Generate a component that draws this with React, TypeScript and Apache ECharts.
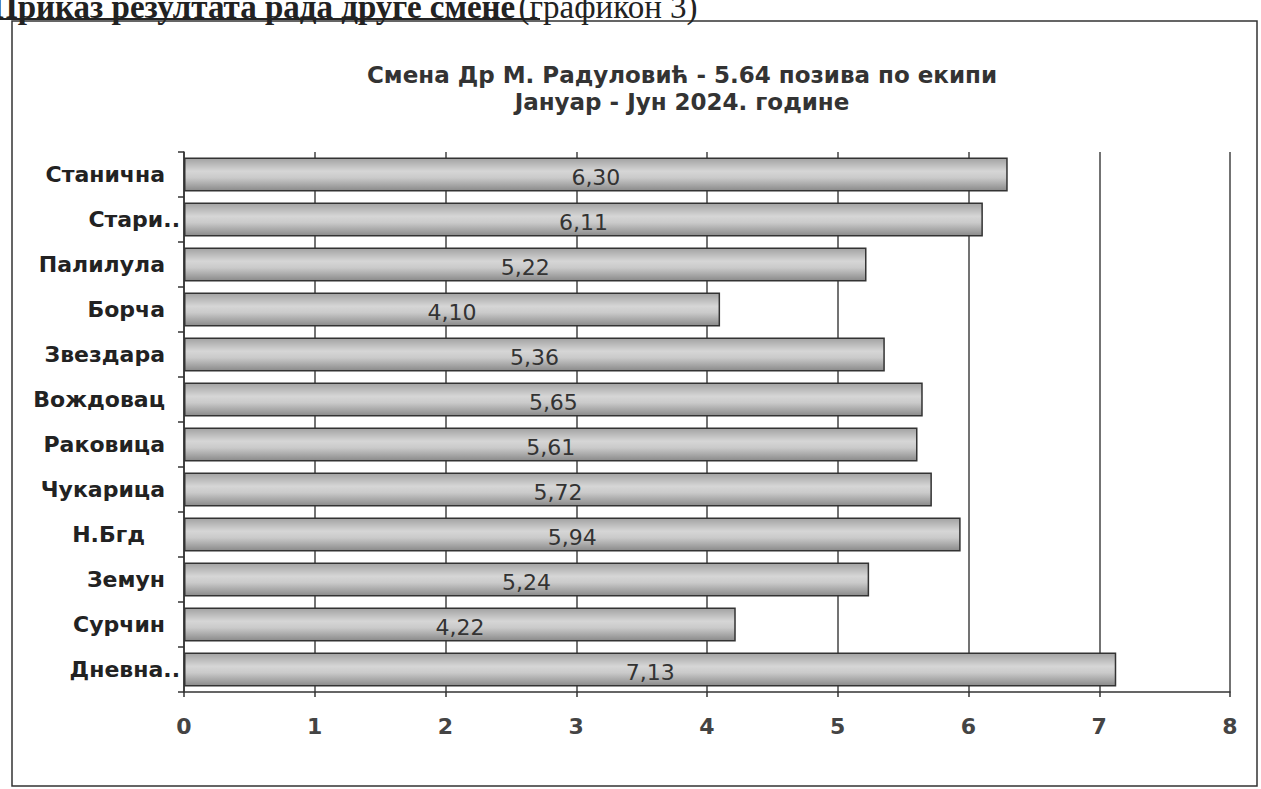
import React, { useEffect, useRef } from "react";
import * as echarts from "echarts";

const titleLine1 = "Смена Др М. Радуловић - 5.64 позива по екипи";
const titleLine2 = "Јануар - Јун 2024. године";
const headingBold = "Приказ резултата рада друге смене";
const headingNormal = "(графикон 3)";

const categories = [
  "Станична",
  "Стари..",
  "Палилула",
  "Борча",
  "Звездара",
  "Вождовац",
  "Раковица",
  "Чукарица",
  "Н.Бгд",
  "Земун",
  "Сурчин",
  "Дневна..",
];
const values = [6.3, 6.11, 5.22, 4.1, 5.36, 5.65, 5.61, 5.72, 5.94, 5.24, 4.22, 7.13];
const xTicks = [0, 1, 2, 3, 4, 5, 6, 7, 8];

const FONT = "'DejaVu Sans', 'Liberation Sans', Arial, sans-serif";
const SERIF = "'Liberation Serif', 'Times New Roman', serif";

export default function App() {
  const ref = useRef<HTMLDivElement>(null);
  useEffect(() => {
    if (!ref.current) return;
    const chart = echarts.init(ref.current, null, { renderer: "svg" });
    const barGradient = new echarts.graphic.LinearGradient(0, 0, 0, 1, [
      { offset: 0, color: "#a2a2a2" },
      { offset: 0.4, color: "#d6d6d6" },
      { offset: 0.6, color: "#cacaca" },
      { offset: 1, color: "#8a8a8a" },
    ]);
    const labelStyle = { fontFamily: FONT, fontWeight: "bold", fontSize: 22, color: "#222" };
    chart.setOption({
      animation: false,
      backgroundColor: "#ffffff",
      graphic: [
        {
          type: "rect",
          shape: { x: 12, y: 21, width: 1245, height: 765 },
          style: { fill: "none", stroke: "#333", lineWidth: 1.5 },
          z: 1,
        },
        {
          type: "text",
          x: -8,
          y: 23,
          style: {
            text: `{b|${headingBold}} {n|${headingNormal}}`,
            verticalAlign: "bottom",
            fill: "#222",
            rich: {
              b: { fontFamily: SERIF, fontWeight: "bold", fontSize: 33, fill: "#222" },
              n: { fontFamily: SERIF, fontSize: 33, fill: "#222" },
            },
          },
          z: 2,
        },
        {
          type: "line",
          shape: { x1: 0, y1: 19, x2: 540, y2: 19 },
          style: { stroke: "#222", lineWidth: 2 },
        },
        {
          type: "text",
          x: 682,
          y: 75,
          style: {
            text: titleLine1,
            align: "center",
            verticalAlign: "middle",
            fontFamily: FONT,
            fontWeight: "bold",
            fontSize: 23,
            fill: "#333",
          },
        },
        {
          type: "text",
          x: 682,
          y: 102,
          style: {
            text: titleLine2,
            align: "center",
            verticalAlign: "middle",
            fontFamily: FONT,
            fontWeight: "bold",
            fontSize: 23,
            fill: "#333",
          },
        },
      ],
      grid: { left: 184, right: 31, top: 152, bottom: 97, containLabel: false },
      xAxis: {
        type: "value",
        min: xTicks[0],
        max: xTicks[xTicks.length - 1],
        interval: 1,
        axisLine: { show: true, lineStyle: { color: "#333", width: 1.5 } },
        axisTick: { show: true, length: 5, lineStyle: { color: "#333", width: 1.5 } },
        splitLine: { show: true, lineStyle: { color: "#444", width: 1.5 } },
        axisLabel: {
          margin: 23,
          color: "#444",
          fontFamily: FONT,
          fontWeight: "bold",
          fontSize: 22,
        },
      },
      yAxis: {
        type: "category",
        inverse: true,
        data: categories,
        axisLine: { show: true, lineStyle: { color: "#333", width: 1.5 } },
        axisTick: { show: true, length: 6, alignWithLabel: false, lineStyle: { color: "#333", width: 1.5 } },
        axisLabel: {
          margin: 4,
          formatter: (v: string) => {
            if (v.endsWith("..")) return `{t|${v}}`;
            if (v === "Н.Бгд") return `{w|${v}}`;
            return `{n|${v}}`;
          },
          rich: {
            n: { ...labelStyle, padding: [0, 15, 0, 0] },
            t: { ...labelStyle, padding: [0, 0, 0, 0] },
            w: { ...labelStyle, padding: [0, 35, 0, 0] },
          },
        },
      },
      series: [
        {
          type: "bar",
          data: values,
          barWidth: 34,
          itemStyle: { color: barGradient, borderColor: "#333", borderWidth: 1.5 },
          label: {
            show: true,
            position: "inside",
            offset: [0, 3],
            color: "#333",
            fontFamily: FONT,
            fontSize: 22,
            formatter: (p: any) => Number(p.value).toFixed(2).replace(".", ","),
          },
        },
      ],
    });
    return () => chart.dispose();
  }, []);
  return (
    <div
      ref={ref}
      style={{ position: "fixed", left: 0, top: 0, width: 1261, height: 789 }}
    />
  );
}
